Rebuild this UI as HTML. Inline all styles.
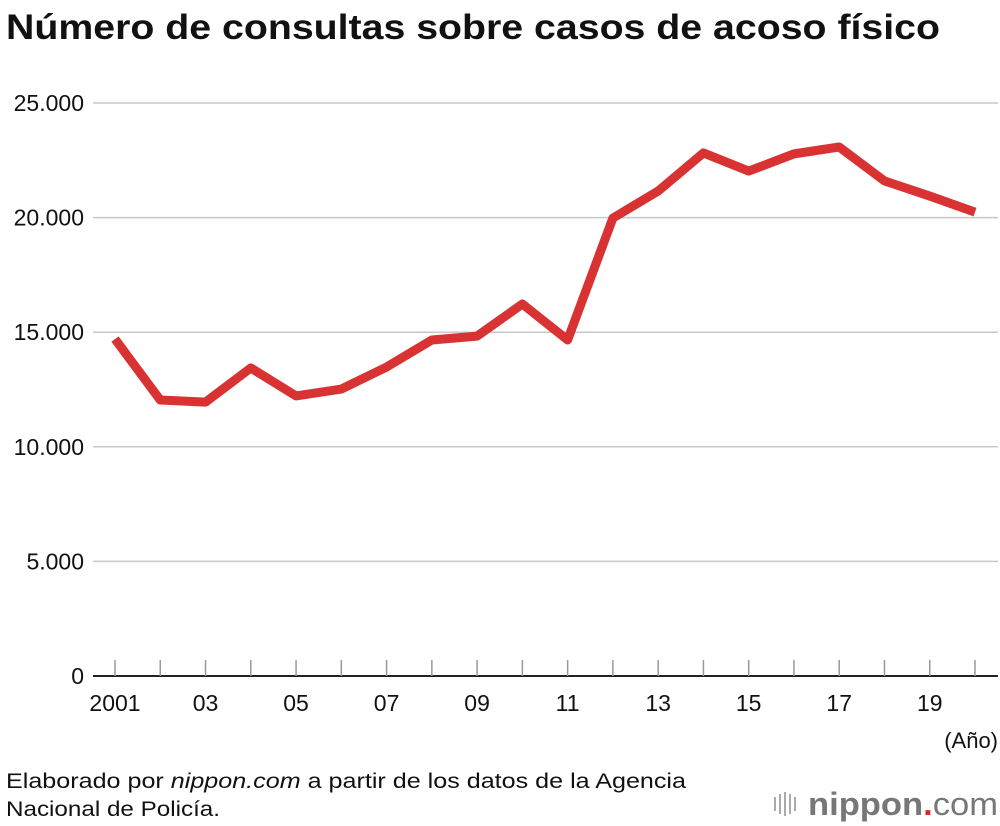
<!DOCTYPE html>
<html><head><meta charset="utf-8"><style>
body{margin:0;background:#fff;font-family:"Liberation Sans",sans-serif;}
svg{display:block}
</style></head><body>
<svg width="1000" height="826" id="c">
<text x="6" y="39" font-size="35" font-weight="bold" fill="#111" textLength="934" lengthAdjust="spacingAndGlyphs">Número de consultas sobre casos de acoso físico</text>
<g id="grid"></g><g id="xt"></g>
<text x="998" y="748" font-size="22" text-anchor="end" fill="#111">(Año)</text>
<text x="6" y="788" font-size="21" fill="#111" textLength="680" lengthAdjust="spacingAndGlyphs">Elaborado por <tspan font-style="italic">nippon.com</tspan> a partir de los datos de la Agencia</text>
<text x="6" y="816" font-size="21" fill="#111" textLength="214" lengthAdjust="spacingAndGlyphs">Nacional de Policía.</text>
<g>
<g fill="#aaa"><rect x="774" y="797" width="2" height="14"/><rect x="779" y="794" width="2" height="20"/><rect x="784" y="792" width="2" height="24"/><rect x="789" y="794" width="2" height="20"/><rect x="794" y="797" width="2" height="14"/></g>
<text x="808" y="815" font-size="32" fill="#777" font-weight="bold" textLength="190" lengthAdjust="spacingAndGlyphs">nippon<tspan fill="#e0262b">.</tspan><tspan font-weight="normal">com</tspan></text>
</g>
</svg>
<script>
const years=[2001,2002,2003,2004,2005,2006,2007,2008,2009,2010,2011,2012,2013,2014,2015,2016,2017,2018,2019,2020];
const values=[14700,12040,11950,13440,12220,12520,13480,14660,14830,16230,14660,19980,21160,22820,22030,22780,23080,21600,20940,20240];
const yTicks=[0,5000,10000,15000,20000,25000];
const yTickLabels=["0","5.000","10.000","15.000","20.000","25.000"];
const xLabelYears=[2001,2003,2005,2007,2009,2011,2013,2015,2017,2019];
const xLabels=["2001","03","05","07","09","11","13","15","17","19"];
const NS="http://www.w3.org/2000/svg";
const svg=document.getElementById('c');
const X=y=>115+(y-2001)*(975-115)/19;
const Y=v=>676-v*(676-103)/25000;
function el(t,a,p){const e=document.createElementNS(NS,t);for(const k in a)e.setAttribute(k,a[k]);(p||svg).appendChild(e);return e;}
const grid=document.getElementById('grid');
yTicks.forEach((v,i)=>{
 const l=el('line',{x1:93,x2:998,y1:Y(v),y2:Y(v),stroke:v===0?'#222':'#c8c8c8','stroke-width':v===0?2:1.5},grid);
 
 
 const t=el('text',{x:84,y:Y(v)+8,'font-size':23,'text-anchor':'end',fill:'#111'},grid);
 t.textContent=yTickLabels[i];
 
 
});
const xt=document.getElementById('xt');
years.forEach(y=>{
 const l=el('line',{x1:X(y),x2:X(y),y1:660,y2:676,stroke:'#999','stroke-width':1.5},xt);
 
 
});
xLabelYears.forEach((y,i)=>{
 const t=el('text',{x:X(y),y:711,'font-size':23,'text-anchor':'middle',fill:'#111'},xt);
 t.textContent=xLabels[i];
 
 
});
const p=el('polyline',{points:years.map((y,i)=>X(y)+','+Y(values[i])).join(' '),fill:'none',stroke:'#d93232','stroke-width':9,'stroke-linejoin':'round','stroke-linecap':'butt'});


</script>
</body></html>
